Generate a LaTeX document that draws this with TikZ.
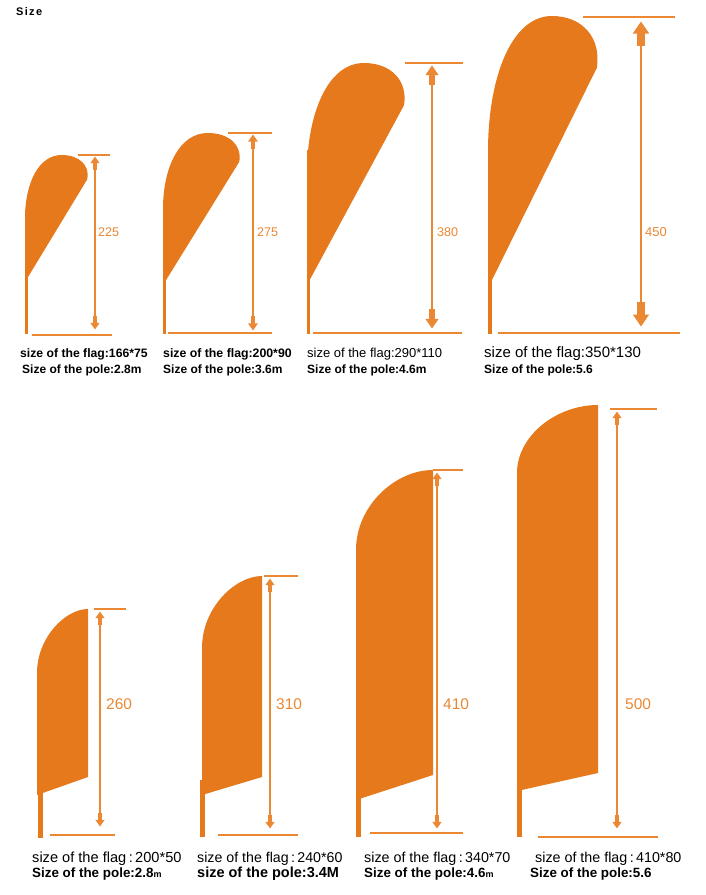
\documentclass[tikz,border=0pt]{standalone}
\usepackage{fontspec}
\setmainfont{Liberation Sans}
\usetikzlibrary{arrows.meta}

\definecolor{flagorange}{RGB}{230,121,28}
\definecolor{dimorange}{RGB}{234,136,52}

\tikzset{
  teardrop/.pic={\fill[flagorange] (0,1) -- (0,0.5) .. controls (0,0.22) and (0.22,0) .. (0.58,0)
        .. controls (0.86,0) and (1.03,0.08) .. (0.99,0.19) -- cycle;},
  dimline/.style={dimorange, line width=1.5pt},
  dimarrow/.style={dimline,
        {Triangle[width=16pt,length=12pt,sep=-0.5pt,scale=#1] Rectangle[width=8pt,length=13pt,sep=-0.5pt,scale=#1]}-{Rectangle[width=8pt,length=13pt,sep=-0.5pt,scale=#1] Triangle[width=16pt,length=12pt,sep=-0.5pt,scale=#1]}},
  sizelabel/.style={dimorange, anchor=west, inner sep=0pt},
  flagtext/.style={anchor=base west, inner sep=0pt},
}

\begin{document}
\begin{tikzpicture}[x=1pt, y=-1pt]
        \useasboundingbox[fill=white] (0,0) rectangle (705,895);

        \node[flagtext, font=\bfseries\fontsize{11}{12}\selectfont\addfontfeatures{LetterSpace=12}] (title) at (16,15) {Size};

        % top row: teardrop flags
        \coordinate (a1t) at (95,157);
        \coordinate (a1b) at (95,329);
        \fill[flagorange] (25,210) rectangle (28,334);
        \pic[xscale=63, yscale=127] at (25,155) {teardrop};
        \draw[dimline] (78,155) -- (110,155);
        \draw[dimline] (32,335) -- (112,335);
        \draw[dimarrow=0.55] (a1t) -- (a1b);
        \node[sizelabel, font=\fontsize{12.6}{14}\selectfont] (h1) at (98,232) {225};

        \coordinate (a2t) at (253,135);
        \coordinate (a2b) at (253,330);
        \fill[flagorange] (163,200) rectangle (166,334);
        \pic[xscale=77, yscale=152] at (163,133) {teardrop};
        \draw[dimline] (228,133) -- (272,133);
        \draw[dimline] (168,333) -- (272,333);
        \draw[dimarrow=0.6] (a2t) -- (a2b);
        \node[sizelabel, font=\fontsize{12.6}{14}\selectfont] (h2) at (257,232) {275};

        \coordinate (a3t) at (432,66);
        \coordinate (a3b) at (432,328);
        \fill[flagorange] (307,150) rectangle (310,334);
        \pic[xscale=98, yscale=222] at (307,63) {teardrop};
        \draw[dimline] (405,63) -- (463,63);
        \draw[dimline] (313,333) -- (462,333);
        \draw[dimarrow=0.8] (a3t) -- (a3b);
        \node[sizelabel, font=\fontsize{12.6}{14}\selectfont] (h3) at (437,232) {380};

        \coordinate (a4t) at (641,22);
        \coordinate (a4b) at (641,326);
        \fill[flagorange] (488,150) rectangle (492,334);
        \pic[xscale=110, yscale=272] at (488,16) {teardrop};
        \draw[dimline] (583,17) -- (675,17);
        \draw[dimline] (498,333) -- (680,333);
        \draw[dimarrow=1] (a4t) -- (a4b);
        \node[sizelabel, font=\fontsize{13}{14}\selectfont] (h4) at (645,232) {450};

        \node[flagtext, font=\bfseries\fontsize{12.2}{14}\selectfont] (f1a) at (20,357) {size of the flag:166*75};
        \node[flagtext, font=\bfseries\fontsize{12}{14}\selectfont] (f1b) at (22,373) {Size of the pole:2.8m};
        \node[flagtext, font=\bfseries\fontsize{12.3}{14}\selectfont] (f2a) at (163,357) {size of the flag:200*90};
        \node[flagtext, font=\bfseries\fontsize{12}{14}\selectfont] (f2b) at (163,373) {Size of the pole:3.6m};
        \node[flagtext, font=\fontsize{13}{14}\selectfont] (f3a) at (307,357) {size of the flag:290*110};
        \node[flagtext, font=\bfseries\fontsize{12}{14}\selectfont] (f3b) at (307,373) {Size of the pole:4.6m};
        \node[flagtext, font=\fontsize{15}{16}\selectfont] (f4a) at (484,357) {size of the flag:350*130};
        \node[flagtext, font=\bfseries\fontsize{12}{14}\selectfont] (f4b) at (484,373) {Size of the pole:5.6};

        % bottom row: feather flags
        \coordinate (a5t) at (100,612);
        \coordinate (a5b) at (100,826);
        \fill[flagorange] (38,780) rectangle (43,838);
        \fill[flagorange] (37,795) -- (37,673) .. controls (37,638) and (65,609) .. (88,609) -- (88,777) -- cycle;
        \draw[dimline] (94,609) -- (126,609);
        \draw[dimline] (50,835) -- (115,835);
        \draw[dimarrow=0.55] (a5t) -- (a5b);
        \node[sizelabel, font=\fontsize{15.5}{17}\selectfont] (h5) at (106,704) {260};

        \coordinate (a6t) at (270,579);
        \coordinate (a6b) at (270,828);
        \fill[flagorange] (200,780) rectangle (205,837);
        \fill[flagorange] (202,795) -- (202,648) .. controls (202,608) and (235,576) .. (262,576) -- (262,777) -- cycle;
        \draw[dimline] (264,576) -- (298,576);
        \draw[dimline] (218,835) -- (298,835);
        \draw[dimarrow=0.55] (a6t) -- (a6b);
        \node[sizelabel, font=\fontsize{15.5}{17}\selectfont] (h6) at (276,704) {310};

        \coordinate (a7t) at (437,473);
        \coordinate (a7b) at (437,828);
        \fill[flagorange] (356,780) rectangle (361,837);
        \fill[flagorange] (356,800) -- (356,550) .. controls (356,506) and (395,470) .. (433,470) -- (433,775) -- cycle;
        \draw[dimline] (433,470) -- (463,470);
        \draw[dimline] (370,833) -- (463,833);
        \draw[dimarrow=0.55] (a7t) -- (a7b);
        \node[sizelabel, font=\fontsize{15.5}{17}\selectfont] (h7) at (443,704) {410};

        \coordinate (a8t) at (617,412);
        \coordinate (a8b) at (617,828);
        \fill[flagorange] (517,780) rectangle (522,837);
        \fill[flagorange] (517,791) -- (517,473) .. controls (517,436) and (556,405) .. (598,405) -- (598,773) -- cycle;
        \draw[dimline] (610,409) -- (657,409);
        \draw[dimline] (538,837) -- (658,837);
        \draw[dimarrow=0.55] (a8t) -- (a8b);
        \node[sizelabel, font=\fontsize{15.5}{17}\selectfont] (h8) at (625,704) {500};

        \node[flagtext, font=\fontsize{14.6}{16}\selectfont] (f5a) at (32,862) {size of the flag\thinspace:\thinspace200*50};
        \node[flagtext, font=\bfseries\fontsize{13.4}{15}\selectfont] (f5b) at (32,877) {Size of the pole:2.8{\fontsize{9}{10}\selectfont m}};
        \node[flagtext, font=\fontsize{14.2}{16}\selectfont] (f6a) at (197,862) {size of the flag\thinspace:\thinspace240*60};
        \node[flagtext, font=\bfseries\fontsize{14.5}{16}\selectfont] (f6b) at (197,877) {size of the pole:3.4M};
        \node[flagtext, font=\fontsize{14.3}{16}\selectfont] (f7a) at (364,862) {size of the flag\thinspace:\thinspace340*70};
        \node[flagtext, font=\bfseries\fontsize{13.4}{15}\selectfont] (f7b) at (364,877) {Size of the pole:4.6{\fontsize{9}{10}\selectfont m}};
        \node[flagtext, font=\fontsize{14.3}{16}\selectfont] (f8a) at (535,862) {size of the flag\thinspace:\thinspace410*80};
        \node[flagtext, font=\bfseries\fontsize{13.4}{15}\selectfont] (f8b) at (530,877) {Size of the pole:5.6};
\end{tikzpicture}
\end{document}
